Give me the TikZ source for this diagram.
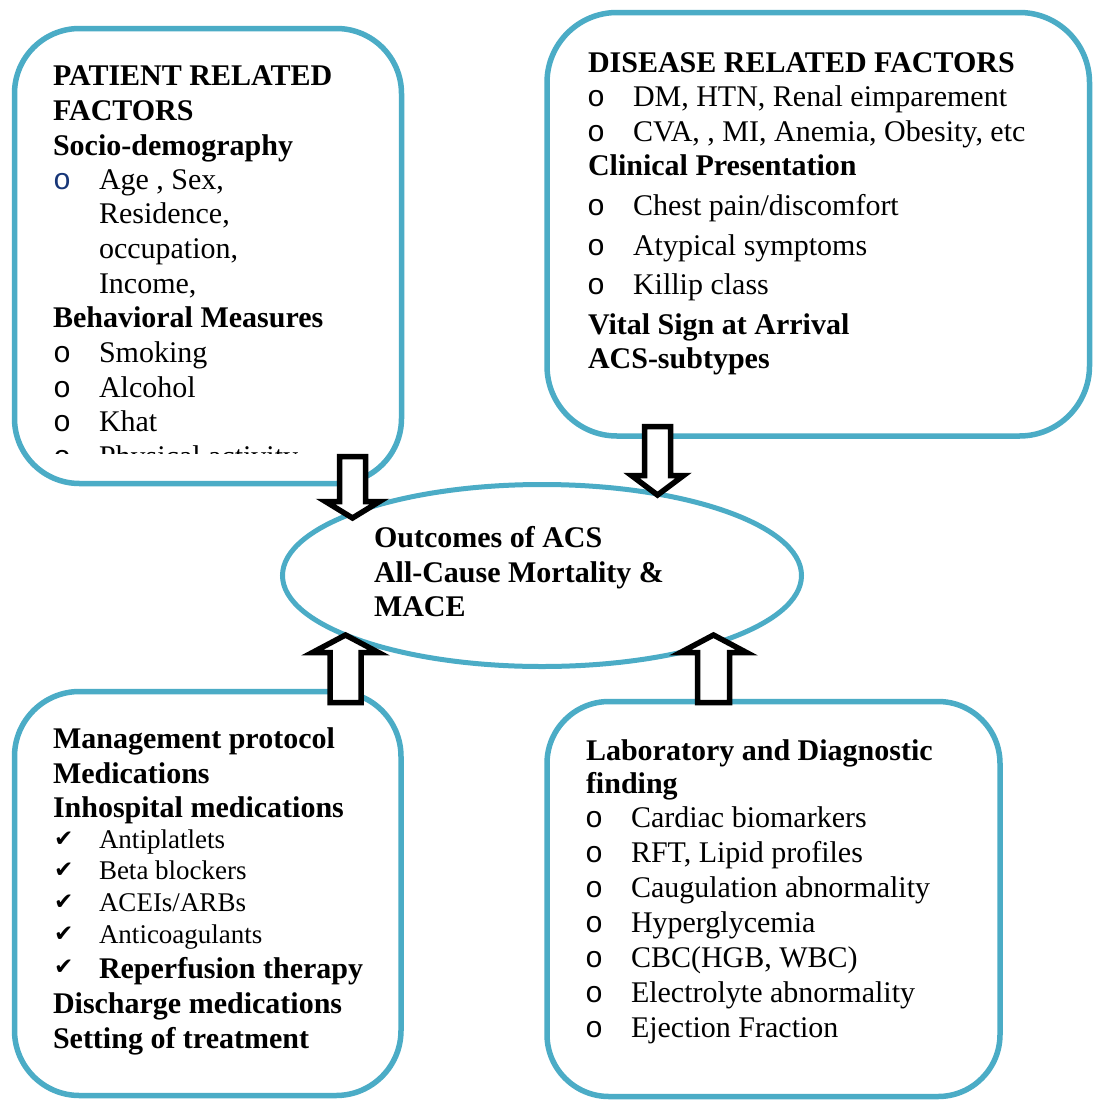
\documentclass[tikz,border=0pt]{standalone}
\usepackage{fontspec}
\setmainfont{Liberation Serif}
\newfontfamily\monof{Liberation Mono}
\newfontfamily\djvf{DejaVu Sans}
\usetikzlibrary{shapes.geometric}
\definecolor{boxblue}{RGB}{75,172,198}
\definecolor{navyb}{RGB}{23,54,120}
\tikzset{
  rbox/.style={draw=boxblue, line width=5.5pt, rectangle, inner sep=0pt, outer sep=0pt},
  oval/.style={draw=boxblue, line width=5pt, ellipse, inner sep=0pt, outer sep=0pt, minimum width=519pt, minimum height=182pt},
  txt/.style={anchor=base west, inner sep=0pt, outer sep=0pt, font=\fontsize{30}{34.5}\selectfont},
  bld/.style={anchor=base west, inner sep=0pt, outer sep=0pt, font=\fontsize{30}{34.5}\selectfont\bfseries},
  sml/.style={anchor=base west, inner sep=0pt, outer sep=0pt, font=\fontsize{27}{31}\selectfont},
  bul/.style={anchor=base west, inner sep=0pt, outer sep=0pt, font=\monof\fontsize{30}{30}\selectfont},
  chk/.style={anchor=base west, inner sep=0pt, outer sep=0pt, font=\djvf\fontsize{23}{23}\selectfont},
  barrow/.style={draw=black, fill=white, line width=5.5pt, line join=miter, miter limit=20}
}
\begin{document}
\begin{tikzpicture}[x=1pt,y=-1pt]
\useasboundingbox (0,0) rectangle (1092,1100);
\fill[white] (0,0) rectangle (1092,1100);

% boxes
\node[rbox, rounded corners=65pt, minimum width=387pt, minimum height=455pt] (patient) at (208,256) {};
\node[rbox, rounded corners=70pt, minimum width=542.5pt, minimum height=423.5pt] (disease) at (818.25,224.25) {};
\node[rbox, rounded corners=65pt, minimum width=386.5pt, minimum height=404pt] (manage) at (207.75,893.5) {};
\node[rbox, rounded corners=62pt, minimum width=453pt, minimum height=395pt] (lab) at (773.5,899) {};
\node[oval] (outcome) at (542,575.5) {};

% patient related factors
\node[bld] (p1) at (53,85) {PATIENT RELATED};
\node[bld] (p2) at (53,120) {FACTORS};
\node[bld] (p3) at (53,155) {Socio-demography};
\node[bul, text=navyb] (pb1) at (53,189) {o};
\node[txt] (p4) at (99,189) {Age , Sex,};
\node[txt] (p5) at (99,223) {Residence,};
\node[txt] (p6) at (99,258) {occupation,};
\node[txt] (p7) at (99,293) {Income,};
\node[bld] (p8) at (53,327) {Behavioral Measures};
\node[bul] (pb2) at (53,362) {o};
\node[txt] (p9) at (99,362) {Smoking};
\node[bul] (pb3) at (53,397) {o};
\node[txt] (p10) at (99,397) {Alcohol};
\node[bul] (pb4) at (53,431) {o};
\node[txt] (p11) at (99,431) {Khat};
\begin{scope}
\clip (0,0) rectangle (1092,453);
\node[bul] (pb5) at (53,466) {o};
\node[txt] (p12) at (99,466) {Physical activity};
\end{scope}

% disease related factors
\node[bld] (d1) at (588,72) {DISEASE RELATED FACTORS};
\node[bul] (db1) at (587,106) {o};
\node[txt] (d2) at (633,106) {DM, HTN, Renal eimparement};
\node[bul] (db2) at (587,141) {o};
\node[txt] (d3) at (633,141) {CVA, , MI, Anemia, Obesity, etc};
\node[bld] (d4) at (588,175) {Clinical Presentation};
\node[bul] (db3) at (587,215) {o};
\node[txt] (d5) at (633,215) {Chest pain/discomfort};
\node[bul] (db4) at (587,255) {o};
\node[txt] (d6) at (633,255) {Atypical symptoms};
\node[bul] (db5) at (587,294) {o};
\node[txt] (d7) at (633,294) {Killip class};
\node[bld] (d8) at (588,334) {Vital Sign at Arrival};
\node[bld] (d9) at (588,368) {ACS-subtypes};

% outcome text
\node[bld] (o1) at (374,547) {Outcomes of ACS};
\node[bld] (o2) at (374,582) {All-Cause Mortality \&};
\node[bld] (o3) at (374,616) {MACE};

% management
\node[bld] (m1) at (53,748) {Management protocol};
\node[bld] (m2) at (53,783) {Medications};
\node[bld] (m3) at (53,817) {Inhospital medications};
\node[chk] (mc1) at (54,846) {✔};
\node[sml] (m4) at (99,848) {Antiplatlets};
\node[chk] (mc2) at (54,877) {✔};
\node[sml] (m5) at (99,879) {Beta blockers};
\node[chk] (mc3) at (54,909) {✔};
\node[sml] (m6) at (99,911) {ACEIs/ARBs};
\node[chk] (mc4) at (54,941) {✔};
\node[sml] (m7) at (99,943) {Anticoagulants};
\node[chk] (mc5) at (54,974) {✔};
\node[bld] (m8) at (99,978) {Reperfusion therapy};
\node[bld] (m9) at (53,1013) {Discharge medications};
\node[bld] (m10) at (53,1048) {Setting of treatment};

% laboratory
\node[bld] (l1) at (586,760) {Laboratory and Diagnostic};
\node[bld] (l2) at (586,793) {finding};
\node[bul] (lb1) at (585,827) {o};
\node[txt] (l3) at (631,827) {Cardiac biomarkers};
\node[bul] (lb2) at (585,862) {o};
\node[txt] (l4) at (631,862) {RFT, Lipid profiles};
\node[bul] (lb3) at (585,897) {o};
\node[txt] (l5) at (631,897) {Caugulation abnormality};
\node[bul] (lb4) at (585,932) {o};
\node[txt] (l6) at (631,932) {Hyperglycemia};
\node[bul] (lb5) at (585,967) {o};
\node[txt] (l7) at (631,967) {CBC(HGB, WBC)};
\node[bul] (lb6) at (585,1002) {o};
\node[txt] (l8) at (631,1002) {Electrolyte abnormality};
\node[bul] (lb7) at (585,1037) {o};
\node[txt] (l9) at (631,1037) {Ejection Fraction};

% block arrows
\draw[barrow] (339.5,456.5) -- (365.5,456.5) -- (365.5,501.5) -- (379.5,501.5) -- (352.5,518) -- (325.5,501.5) -- (339.5,501.5) -- cycle;
\draw[barrow] (644.5,426.5) -- (670.5,426.5) -- (670.5,475.5) -- (683.5,475.5) -- (657.5,495) -- (631.5,475.5) -- (644.5,475.5) -- cycle;
\draw[barrow] (330,702.5) -- (361,702.5) -- (361,652.5) -- (378.5,652.5) -- (345.5,635) -- (312.5,652.5) -- (330,652.5) -- cycle;
\draw[barrow] (697.5,702.5) -- (729.5,702.5) -- (729.5,652.5) -- (746.5,652.5) -- (713.5,635) -- (680.5,652.5) -- (697.5,652.5) -- cycle;
\end{tikzpicture}
\end{document}
